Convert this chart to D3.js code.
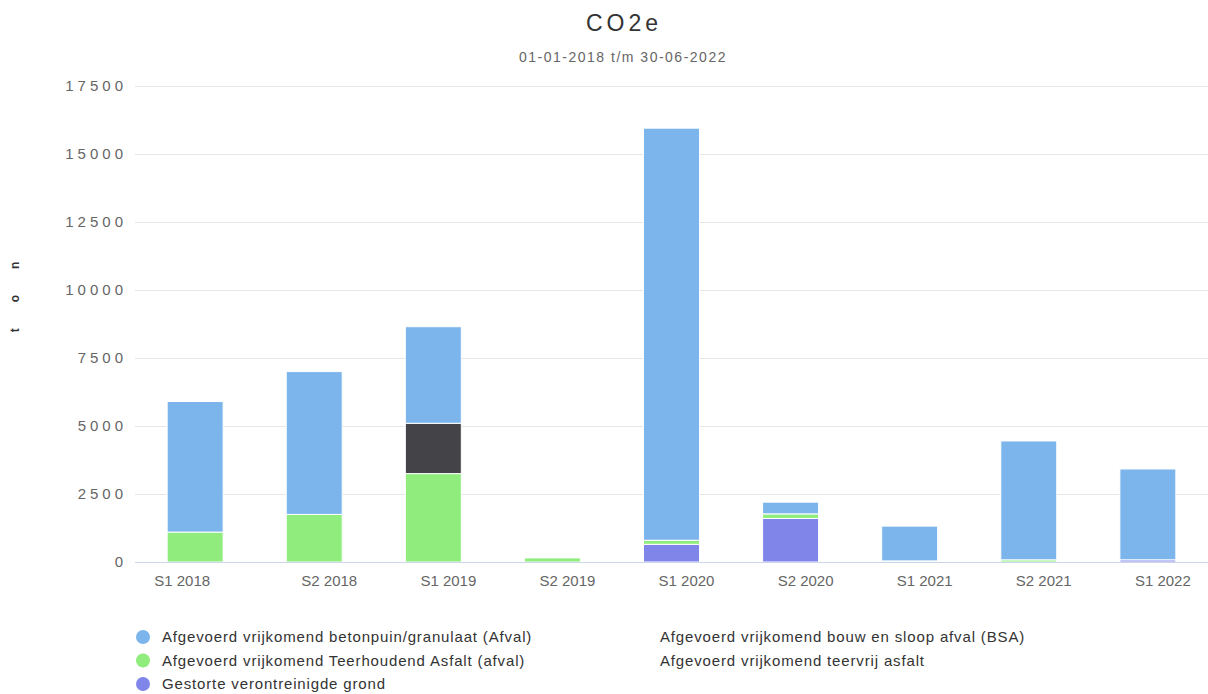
<!DOCTYPE html>
<html>
<head>
<meta charset="utf-8">
<script src="https://cdn.jsdelivr.net/npm/d3@7"></script>
<style>
  body { margin: 0; background: #fff; }
  svg { font-family: "Liberation Sans", Arial, sans-serif; }
</style>
</head>
<body>
<div id="chart"></div>
<script>
const categories = ["S1 2018", "S2 2018", "S1 2019", "S2 2019", "S1 2020", "S2 2020", "S1 2021", "S2 2021", "S1 2022"];
const betonpuin   = [4800, 5250, 3550, 0, 15150, 430, 1280, 4370, 3340];
const bsa         = [0, 0, 1850, 0, 0, 0, 0, 0, 0];
const teerhoudend = [1100, 1750, 3250, 150, 150, 170, 40, 80, 0];
const teervrij    = [0, 0, 0, 0, 0, 0, 0, 0, 0];
const gestorte    = [0, 0, 0, 0, 650, 1600, 0, 0, 80];
const yTicks = [0, 2500, 5000, 7500, 10000, 12500, 15000, 17500];

const series = [
  {key: "betonpuin", name: "Afgevoerd vrijkomend betonpuin/granulaat (Afval)", color: "#7cb5ec", values: betonpuin, marker: true},
  {key: "bsa", name: "Afgevoerd vrijkomend bouw en sloop afval (BSA)", color: "#434348", values: bsa, marker: false},
  {key: "teerhoudend", name: "Afgevoerd vrijkomend Teerhoudend Asfalt (afval)", color: "#90ed7d", values: teerhoudend, marker: true},
  {key: "teervrij", name: "Afgevoerd vrijkomend teervrij asfalt", color: "#f7a35c", values: teervrij, marker: false},
  {key: "gestorte", name: "Gestorte verontreinigde grond", color: "#8085e9", values: gestorte, marker: true}
];

const width = 1208, height = 694;
const margin = {left: 135, right: 0, top: 86, bottom: 132};

const svg = d3.select("#chart").append("svg")
    .attr("width", width)
    .attr("height", height);

let rows = categories.map((c, i) => {
  let r = {cat: c};
  series.forEach(s => { r[s.key] = s.values[i]; });
  return r;
});

// bottom-most series first for the stack
let stack = d3.stack().keys(series.map(s => s.key).reverse());
let stacked = stack(rows);

let x = d3.scaleBand()
    .domain(categories)
    .range([margin.left, width - margin.right])
    .paddingInner(0.53)
    .paddingOuter(0.27);

let y = d3.scaleLinear()
    .domain([0, 17500])
    .range([height - margin.bottom, margin.top]);

// gridlines
svg.append("g")
  .selectAll("line")
  .data(yTicks.slice(1))
  .join("line")
    .attr("x1", margin.left)
    .attr("x2", width)
    .attr("y1", d => y(d) + 0.5)
    .attr("y2", d => y(d) + 0.5)
    .attr("stroke", "#e6e6e6");

// y axis labels
let yAxis = d3.axisLeft(y).tickValues(yTicks).tickFormat(d3.format("d")).tickSize(0).tickPadding(8);
let yg = svg.append("g")
    .attr("transform", `translate(${margin.left}, 0)`)
    .call(yAxis);
yg.select(".domain").remove();
yg.selectAll("text")
    .attr("fill", "#666")
    .attr("font-size", "15px")
    .attr("letter-spacing", "4px")
    .attr("font-family", "Liberation Sans, Arial, sans-serif");

// y title
svg.append("text")
    .attr("transform", `translate(19, 284) rotate(-90)`)
    .attr("text-anchor", "middle")
    .attr("fill", "#333")
    .attr("font-size", "12px")
    .attr("font-weight", "bold")
    .attr("letter-spacing", "26px")
    .text("ton");

// bars
let colorOf = {};
series.forEach(s => { colorOf[s.key] = s.color; });

svg.append("g")
  .selectAll("g")
  .data(stacked)
  .join("g")
    .attr("fill", d => colorOf[d.key])
  .selectAll("rect")
  .data(d => d.filter(p => p[1] - p[0] > 0))
  .join("rect")
    .attr("x", d => x(d.data.cat))
    .attr("width", x.bandwidth())
    .attr("y", d => y(d[1]))
    .attr("height", d => y(d[0]) - y(d[1]))
    .attr("stroke", "#fff")
    .attr("stroke-width", 1);

// x axis
let xAxis = d3.axisBottom(x).tickSize(0).tickPadding(13);
let xg = svg.append("g")
    .attr("transform", `translate(0, ${height - margin.bottom})`)
    .call(xAxis);
xg.select(".domain")
    .attr("stroke", "#ccd6eb")
    .attr("d", `M${margin.left},0.5H${width}`);
xg.selectAll("text")
    .attr("fill", "#666")
    .attr("font-size", "15px")
    .attr("dx", (d, i) => i === 0 ? -13 : 15)
    .attr("font-family", "Liberation Sans, Arial, sans-serif");

// title
svg.append("text")
    .attr("x", 624)
    .attr("y", 31)
    .attr("text-anchor", "middle")
    .attr("fill", "#333")
    .attr("font-size", "23px")
    .attr("letter-spacing", "4px")
    .text("CO2e");

svg.append("text")
    .attr("x", 623)
    .attr("y", 62)
    .attr("text-anchor", "middle")
    .attr("fill", "#666")
    .attr("font-size", "14px")
    .attr("letter-spacing", "1.5px")
    .text("01-01-2018 t/m 30-06-2022");

// legend
let legend = svg.append("g");
let items = legend.selectAll("g")
  .data(series)
  .join("g")
    .attr("transform", (d, i) => `translate(${i % 2 === 0 ? 143 : 660}, ${637 + Math.floor(i / 2) * 23.5})`);

items.filter(d => d.marker)
  .append("circle")
    .attr("r", 7)
    .attr("fill", d => d.color);

items.append("text")
    .attr("x", d => d.marker ? 19 : 0)
    .attr("dy", "0.35em")
    .attr("fill", "#333")
    .attr("font-size", "15px")
    .attr("letter-spacing", "0.85px")
    .text(d => d.name);
</script>
</body>
</html>
